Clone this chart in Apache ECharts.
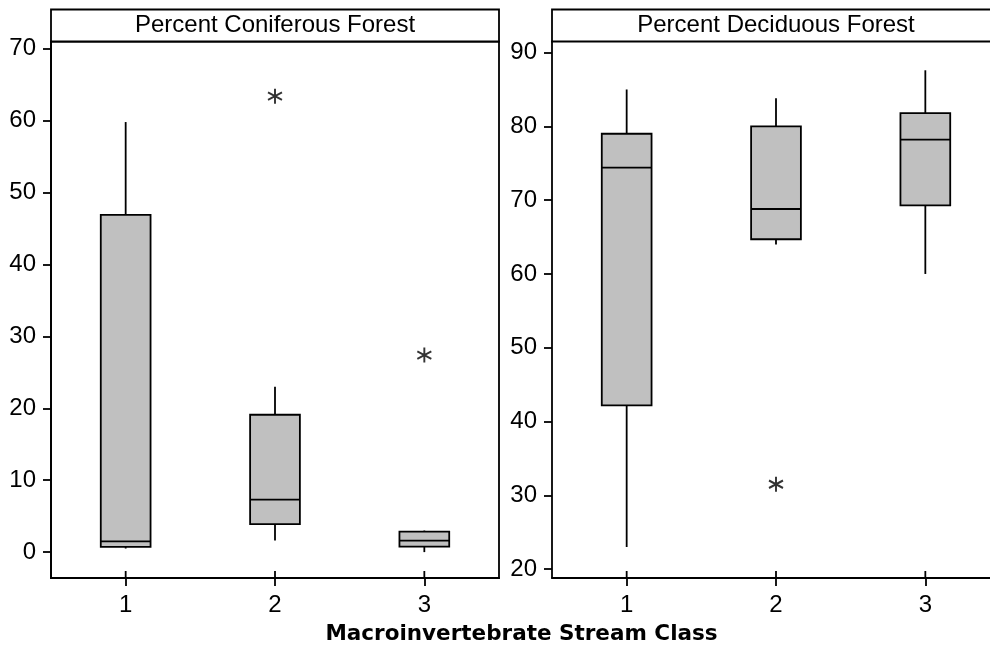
<!DOCTYPE html>
<html>
<head>
<meta charset="utf-8">
<script src="https://cdn.jsdelivr.net/npm/echarts@6/dist/echarts.min.js"></script>
<style>
html,body{margin:0;padding:0;background:#fff;}
#chart{width:990px;height:650px;}
</style>
</head>
<body>
<div id="chart"></div>
<script>
// ---- data ----
const categories = ['1', '2', '3'];
const classValues = [1, 2, 3];
// five-number summaries per class: [whisker low, Q1, median, Q3, whisker high]
const coniferousBoxes = [
  [0.5, 0.74, 1.5, 46.9, 59.8],
  [1.6, 3.9, 7.3, 19.1, 23.0],
  [0.0, 0.75, 1.6, 2.85, 3.0]
];
// outliers: [class, value]
const coniferousOutliers = [[2, 63.4], [3, 27.4]];
const deciduousBoxes = [
  [23.0, 42.2, 74.4, 79.0, 85.0],
  [64.0, 64.7, 68.8, 80.0, 83.8],
  [60.0, 69.3, 78.2, 81.8, 87.6]
];
const deciduousOutliers = [[2, 31.5]];
const coniferousTicks = [0, 10, 20, 30, 40, 50, 60, 70];
const deciduousTicks = [20, 30, 40, 50, 60, 70, 80, 90];
const panelTitles = ['Percent Coniferous Forest', 'Percent Deciduous Forest'];
const xAxisTitle = 'Macroinvertebrate Stream Class';

// ---- chart ----
const chart = echarts.init(document.getElementById('chart'));
const LW = 1.8;
const labelFont = { color: '#000', fontSize: 24, fontFamily: 'Liberation Sans' };
const ASTERISK = 'path://M5,0 L5,10 M0.67,2.5 L9.33,7.5 M0.67,7.5 L9.33,2.5';

function boxRender(params, api) {
  const x = api.value(0);
  const lo = api.coord([x, api.value(1)]);
  const q1 = api.coord([x, api.value(2)]);
  const md = api.coord([x, api.value(3)]);
  const q3 = api.coord([x, api.value(4)]);
  const hi = api.coord([x, api.value(5)]);
  const unit = api.size([1, 0])[0];
  const hw = unit / 6;
  const cx = md[0];
  const bottom = params.coordSys.y + params.coordSys.height;
  const ls = { stroke: '#000', lineWidth: LW };
  return {
    type: 'group',
    children: [
      // inner half of the x tick (the axis draws the outer half)
      { type: 'line', shape: { x1: cx, y1: bottom - 7, x2: cx, y2: bottom }, style: ls },
      { type: 'line', shape: { x1: cx, y1: q3[1], x2: cx, y2: hi[1] }, style: ls },
      { type: 'line', shape: { x1: cx, y1: q1[1], x2: cx, y2: lo[1] }, style: ls },
      { type: 'rect', shape: { x: cx - hw, y: q3[1], width: hw * 2, height: q1[1] - q3[1] },
        style: { fill: '#c0c0c0', stroke: '#000', lineWidth: LW } },
      { type: 'line', shape: { x1: cx - hw, y1: md[1], x2: cx + hw, y2: md[1] }, style: ls }
    ]
  };
}

function xAxis(gi, max) {
  return {
    type: 'value', gridIndex: gi, min: 0.5, max: max, position: 'bottom',
    splitLine: { show: false },
    axisLine: { show: true, onZero: false, lineStyle: { color: '#000', width: LW } },
    axisTick: { show: true, length: 8, customValues: classValues, lineStyle: { color: '#000', width: LW } },
    axisLabel: Object.assign({ margin: 15, customValues: classValues,
      formatter: v => categories[classValues.indexOf(v)] }, labelFont)
  };
}

function yAxis(gi, min, max, ticks) {
  return {
    type: 'value', gridIndex: gi, min: min, max: max,
    axisLine: { show: true, onZero: false, lineStyle: { color: '#000', width: LW } },
    axisTick: { show: true, length: 8, customValues: ticks, lineStyle: { color: '#000', width: LW } },
    axisLabel: Object.assign({ margin: 15, customValues: ticks }, labelFont),
    splitLine: { show: false }
  };
}

const toBoxData = arr => arr.map((b, i) => [classValues[i]].concat(b));

// right panel is cut off by the picture edge: same unit width as left panel (448px / 3 classes)
const rightMax = 0.5 + 438 / (448 / 3);

const option = {
  backgroundColor: '#fff',
  animation: false,
  grid: [
    { left: 51, top: 41.5, width: 448, height: 536.5, show: true, borderColor: '#000', borderWidth: LW, backgroundColor: 'transparent' },
    { left: 552, top: 41.5, right: 0, height: 536.5, show: false }
  ],
  xAxis: [xAxis(0, 3.5), xAxis(1, rightMax)],
  yAxis: [
    yAxis(0, -3.6, 71.0, coniferousTicks),
    yAxis(1, 18.8, 91.5, deciduousTicks)
  ],
  series: [
    { type: 'custom', xAxisIndex: 0, yAxisIndex: 0, renderItem: boxRender,
      encode: { x: 0, y: [1, 2, 3, 4, 5] }, data: toBoxData(coniferousBoxes) },
    { type: 'custom', xAxisIndex: 1, yAxisIndex: 1, renderItem: boxRender,
      encode: { x: 0, y: [1, 2, 3, 4, 5] }, data: toBoxData(deciduousBoxes) },
    { type: 'scatter', xAxisIndex: 0, yAxisIndex: 0, data: coniferousOutliers,
      symbol: ASTERISK, symbolSize: [14, 15],
      itemStyle: { color: 'transparent', borderColor: '#000', borderWidth: 2 } },
    { type: 'scatter', xAxisIndex: 1, yAxisIndex: 1, data: deciduousOutliers,
      symbol: ASTERISK, symbolSize: [14, 15],
      itemStyle: { color: 'transparent', borderColor: '#000', borderWidth: 2 } }
  ],
  graphic: [
    { type: 'rect', shape: { x: 51, y: 9.5, width: 448, height: 32 }, style: { fill: '#fff', stroke: '#000', lineWidth: LW } },
    { type: 'rect', shape: { x: 552, y: 9.5, width: 448, height: 32 }, style: { fill: '#fff', stroke: '#000', lineWidth: LW } },
    { type: 'text', x: 275, y: 25.5, style: { text: panelTitles[0], fill: '#000', font: '24px "Liberation Sans"', textAlign: 'center', textVerticalAlign: 'middle' } },
    { type: 'text', x: 776, y: 25.5, style: { text: panelTitles[1], fill: '#000', font: '24px "Liberation Sans"', textAlign: 'center', textVerticalAlign: 'middle' } },
    { type: 'text', x: 521.5, y: 634, style: { text: xAxisTitle, fill: '#000', font: 'bold 21.5px "DejaVu Sans"', textAlign: 'center', textVerticalAlign: 'middle' } }
  ]
};
chart.setOption(option);
</script>
</body>
</html>
